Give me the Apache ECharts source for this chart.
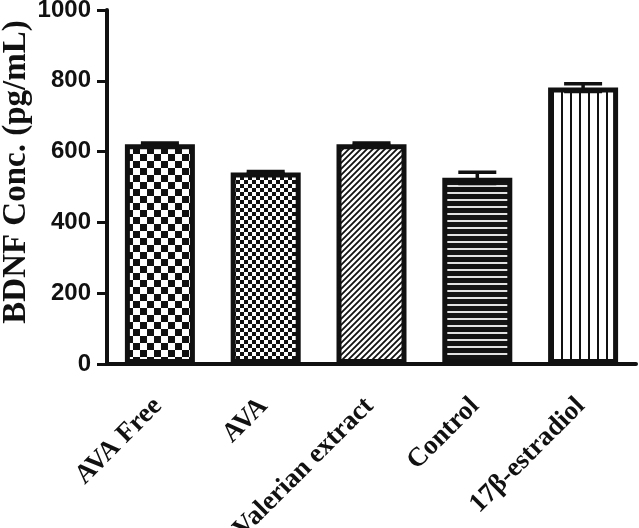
<!DOCTYPE html>
<html>
<head>
<meta charset="utf-8">
<script src="https://cdn.jsdelivr.net/npm/echarts@6/dist/echarts.min.js"></script>
<style>
  html, body { margin: 0; padding: 0; background: #fff; }
  #chart { width: 639px; height: 528px; }
</style>
</head>
<body>
<div id="chart"></div>
<script>
// data
var groups = ['AVA Free', 'AVA', 'Valerian extract', 'Control', '17β-estradiol'];
var meanConc = [621, 541, 621, 526, 781];
var semConc = [3, 3, 3, 16, 11];
var yTicks = [0, 200, 400, 600, 800, 1000];

// fill patterns for the bars
function makePattern(w, h, draw) {
  var c = document.createElement('canvas');
  c.width = w;
  c.height = h;
  var ctx = c.getContext('2d');
  ctx.fillStyle = '#fff';
  ctx.fillRect(0, 0, w, h);
  draw(ctx, w, h);
  return { image: c, repeat: 'repeat' };
}

var bigChecker = makePattern(14, 14, function (ctx) {
  ctx.fillStyle = '#111';
  ctx.fillRect(0, 0, 7, 7);
  ctx.fillRect(7, 7, 7, 7);
});
var smallChecker = makePattern(8, 8, function (ctx) {
  ctx.fillStyle = '#111';
  ctx.fillRect(0, 0, 4, 4);
  ctx.fillRect(4, 4, 4, 4);
});
var hatch = makePattern(6, 6, function (ctx) {
  ctx.strokeStyle = '#111';
  ctx.lineWidth = 1.8;
  ctx.beginPath();
  ctx.moveTo(-1, 7); ctx.lineTo(7, -1);
  ctx.moveTo(-1, 1); ctx.lineTo(1, -1);
  ctx.moveTo(5, 7); ctx.lineTo(7, 5);
  ctx.stroke();
});
var hLines = makePattern(4, 7, function (ctx) {
  ctx.fillStyle = '#141414';
  ctx.fillRect(0, 0, 4, 7);
  ctx.fillStyle = '#e2e2e2';
  ctx.fillRect(0, 3, 4, 2);
});
var vLines = makePattern(9, 4, function (ctx) {
  ctx.fillStyle = '#111';
  ctx.fillRect(3, 0, 2, 4);
});
var fills = [bigChecker, smallChecker, hatch, hLines, vLines];

var chart = echarts.init(document.getElementById('chart'));

var option = {
  animation: false,
  backgroundColor: '#fff',
  grid: {
    left: 107, right: 3, top: 10, bottom: 164,
    containLabel: false,
    outerBoundsMode: 'none'
  },
  xAxis: {
    type: 'category',
    data: groups,
    axisLine: { lineStyle: { color: '#111', width: 4 } },
    axisTick: { alignWithLabel: true, length: 9, lineStyle: { color: '#111', width: 3 } },
    axisLabel: {
      rotate: 45,
      margin: 36,
      padding: [0, 3, 0, 0],
      color: '#111',
      fontFamily: 'Liberation Serif',
      fontWeight: 'bold',
      fontSize: 27
    }
  },
  yAxis: {
    type: 'value',
    min: yTicks[0],
    max: yTicks[yTicks.length - 1],
    interval: 200,
    name: 'BDNF Conc. (pg/mL)',
    nameLocation: 'middle',
    nameGap: 74,
    nameMoveOverlap: false,
    nameTextStyle: {
      color: '#111',
      fontFamily: 'Liberation Serif',
      fontWeight: 'bold',
      fontSize: 33,
      padding: [0, 0, 0, 30]
    },
    axisLine: { show: true, lineStyle: { color: '#111', width: 4 } },
    axisTick: { show: true, length: 10, lineStyle: { color: '#111', width: 3 } },
    axisLabel: {
      margin: 16,
      color: '#111',
      fontFamily: 'Liberation Sans',
      fontWeight: 'bold',
      fontSize: 24,
      formatter: function (v) { return String(v); }
    },
    splitLine: { show: false }
  },
  series: [
    {
      type: 'bar',
      barWidth: 70,
      data: meanConc.map(function (v, i) {
        return { value: v, itemStyle: { color: fills[i] } };
      }),
      itemStyle: { borderColor: '#111', borderWidth: 5 },
      z: 2
    },
    {
      type: 'custom',
      z: 5,
      data: meanConc.map(function (v, i) { return [i, v, semConc[i]]; }),
      renderItem: function (params, api) {
        var i = api.value(0);
        var hi = api.coord([i, api.value(1) + api.value(2)]);
        var lo = api.coord([i, api.value(1) - api.value(2)]);
        var half = 19;
        var st = { stroke: '#111', lineWidth: 3.5 };
        return {
          type: 'group',
          children: [
            { type: 'line', shape: { x1: hi[0], y1: hi[1], x2: lo[0], y2: lo[1] }, style: st },
            { type: 'line', shape: { x1: hi[0] - half, y1: hi[1], x2: hi[0] + half, y2: hi[1] }, style: st },
            { type: 'line', shape: { x1: lo[0] - half, y1: lo[1], x2: lo[0] + half, y2: lo[1] }, style: st }
          ]
        };
      }
    }
  ]
};

chart.setOption(option);
</script>
</body>
</html>
